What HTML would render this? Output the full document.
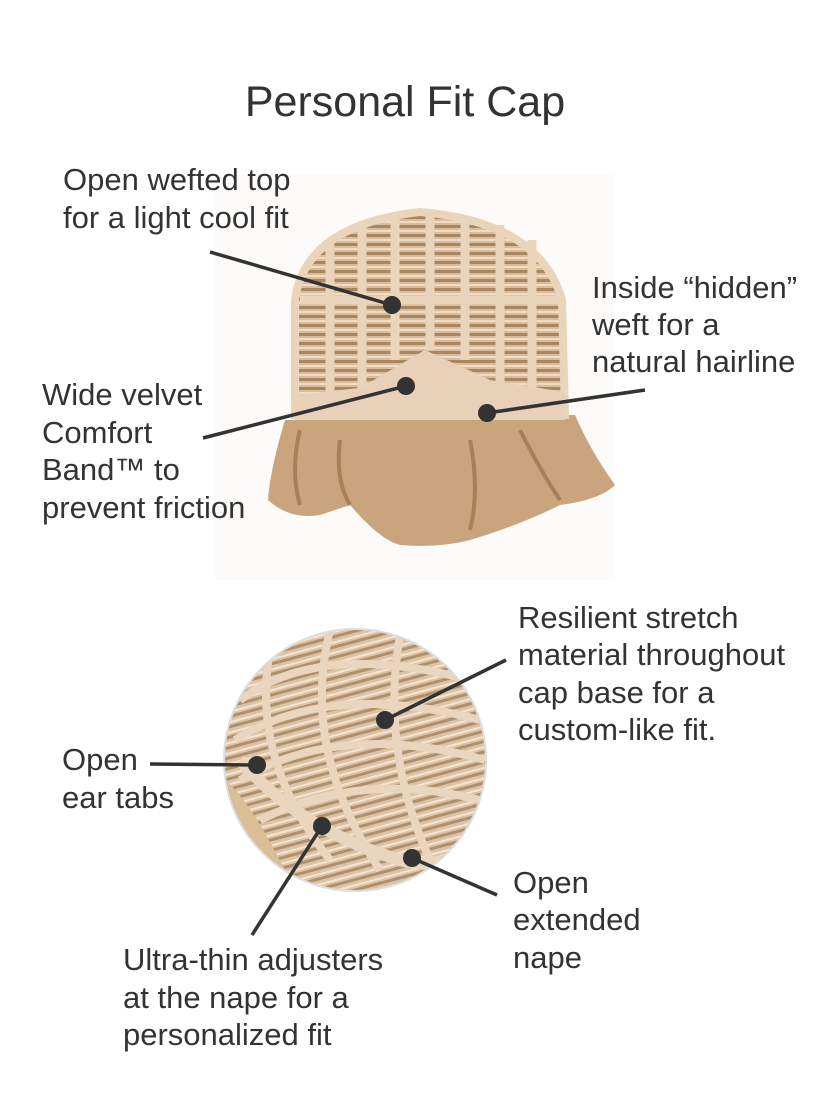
<!DOCTYPE html>
<html><head><meta charset="utf-8"><style>
html,body{margin:0;padding:0;background:#fff;}
svg{display:block;}
text{font-family:"Liberation Sans",sans-serif;fill:#333;}
</style></head><body>
<svg width="840" height="1120" viewBox="0 0 840 1120" xmlns="http://www.w3.org/2000/svg">
<defs>
<pattern id="weft" width="14" height="9" patternUnits="userSpaceOnUse">
<rect width="14" height="9" fill="#d8bc9c"/>
<rect y="0" width="14" height="3" fill="#a8865f"/>
<rect y="5" width="14" height="2" fill="#f0dcc4"/>
</pattern>
<pattern id="weft2" width="12" height="10" patternUnits="userSpaceOnUse" patternTransform="rotate(-15)">
<rect width="12" height="10" fill="#dcc3a6"/>
<rect y="0" width="12" height="3" fill="#b0906c"/>
<rect y="6" width="12" height="2" fill="#f4e4d0"/>
</pattern>
<clipPath id="circ"><circle cx="355" cy="760" r="130"/></clipPath>
</defs>
<text x="405" y="116" font-size="43" text-anchor="middle">Personal Fit Cap</text>

<!-- top wig -->
<rect x="215" y="175" width="400" height="405" fill="#fcfbfa"/>
<path d="M285 420 Q270 470 268 500 Q290 520 320 515 L350 505 Q380 540 400 545 Q440 548 470 540 Q520 525 560 505 Q600 500 615 485 Q590 450 575 415 Z" fill="#c9a47c"/>
<path d="M300 430 Q290 470 300 505 M340 440 Q335 480 350 505 M470 440 Q480 490 470 530 M520 430 Q540 470 560 500" stroke="#a88058" stroke-width="4" fill="none"/>
<path d="M295 415 L295 300 Q305 225 420 212 Q540 222 562 300 L565 415 Z" fill="url(#weft)"/>
<path d="M295 415 L295 300 Q305 225 420 212 Q540 222 562 300 L565 415 Z" fill="none" stroke="#ead4ba" stroke-width="8"/>
<g stroke="#ead4ba" stroke-width="9" fill="none">
<path d="M330 240 L330 410 M362 225 L362 410 M395 218 L395 360 M430 215 L430 350 M465 218 L465 360 M500 225 L500 410 M532 240 L532 410"/>
<path d="M300 300 L560 300"/>
</g>
<path d="M296 395 L360 388 L425 350 L490 380 L564 392 L565 420 L295 420 Z" fill="#e8d1b8"/>
<circle cx="392" cy="305" r="9" fill="#333"/>
<circle cx="406" cy="386" r="9" fill="#333"/>
<circle cx="487" cy="413" r="9" fill="#333"/>
<g stroke="#333" stroke-width="3.5">
<line x1="210" y1="252" x2="392" y2="305"/>
<line x1="645" y1="390" x2="487" y2="413"/>
<line x1="203" y1="438" x2="406" y2="386"/>
</g>

<!-- bottom circle -->
<circle cx="355" cy="760" r="131" fill="#f2ece4" stroke="#ddd" stroke-width="2"/>
<g clip-path="url(#circ)">
<rect x="220" y="620" width="270" height="280" fill="url(#weft2)"/>
<path d="M220 770 Q240 850 300 890 L220 890 Z" fill="#e6cfae"/>
<path d="M225 780 Q250 800 290 880 L230 890 Z" fill="#d9be98"/>
<g stroke="#ead6bf" stroke-width="8" fill="none">
<path d="M240 700 Q320 640 470 680 M235 740 Q330 680 480 720 M240 780 Q340 720 485 760 M260 820 Q360 770 480 800"/>
<path d="M270 650 Q250 760 330 860 M330 630 Q300 750 380 870 M400 635 Q380 750 430 860"/>
<path d="M240 760 Q300 830 400 860 Q440 870 460 850" stroke-width="12"/>
</g>
</g>
<circle cx="385" cy="720" r="9" fill="#333"/>
<circle cx="257" cy="765" r="9" fill="#333"/>
<circle cx="322" cy="826" r="9" fill="#333"/>
<circle cx="412" cy="858" r="9" fill="#333"/>
<g stroke="#333" stroke-width="3.5">
<line x1="506" y1="660" x2="385" y2="720"/>
<line x1="150" y1="764" x2="257" y2="765"/>
<line x1="252" y1="935" x2="322" y2="826"/>
<line x1="497" y1="895" x2="412" y2="858"/>
</g>

<g font-size="31">
<text x="63" y="190">Open wefted top</text>
<text x="63" y="228">for a light cool fit</text>
<text x="592" y="298">Inside “hidden”</text>
<text x="592" y="335">weft for a</text>
<text x="592" y="372">natural hairline</text>
<text x="42" y="405">Wide velvet</text>
<text x="42" y="443">Comfort</text>
<text x="42" y="480">Band™ to</text>
<text x="42" y="518">prevent friction</text>
<text x="518" y="628">Resilient stretch</text>
<text x="518" y="665">material throughout</text>
<text x="518" y="703">cap base for a</text>
<text x="518" y="740">custom-like fit.</text>
<text x="62" y="770">Open</text>
<text x="62" y="808">ear tabs</text>
<text x="123" y="970">Ultra-thin adjusters</text>
<text x="123" y="1008">at the nape for a</text>
<text x="123" y="1045">personalized fit</text>
<text x="513" y="893">Open</text>
<text x="513" y="930">extended</text>
<text x="513" y="968">nape</text>
</g>
</svg>
</body></html>
